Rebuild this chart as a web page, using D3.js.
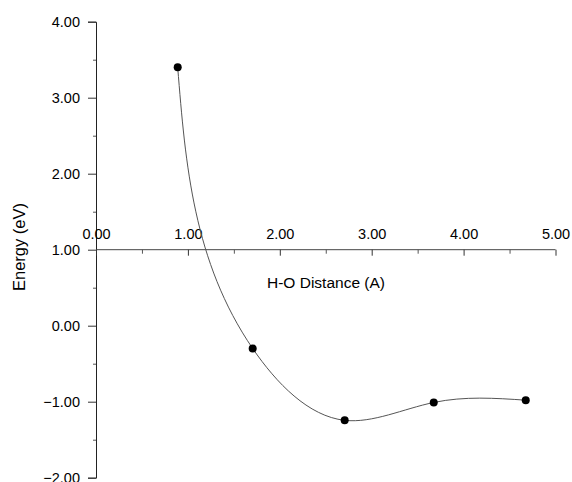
<!DOCTYPE html>
<html>
<head>
<meta charset="utf-8">
<script src="https://cdn.jsdelivr.net/npm/d3@7"></script>
<style>
  body { margin: 0; background: #fff; }
  text { font-family: Arial, "Liberation Sans", sans-serif; fill: #000; }
</style>
</head>
<body>
<svg width="572" height="482"></svg>
<script>
// H-O distance (A) and energy (eV)
const distance = [0.889, 1.705, 2.706, 3.675, 4.676];
const energy = [3.40, -0.30, -1.245, -1.01, -0.98];

const xTicks = [0, 1, 2, 3, 4, 5];
const xMinor = [0.5, 1.5, 2.5, 3.5, 4.5];
const yTicks = [-2, -1, 0, 1, 2, 3, 4];
const yMinor = [-1.5, -0.5, 0.5, 1.5, 2.5, 3.5];

let svg = d3.select("svg");

let x = d3.scaleLinear().domain([0, 5]).range([96, 555.5]);
let y = d3.scaleLinear().domain([-2, 4]).range([477.7, 21.7]);

// parametric natural spline, chord-length knots (like the plotting program's smoothing)
function chordSpline(context) {
  let pts;
  return {
    areaStart() {},
    areaEnd() {},
    lineStart() { pts = []; },
    point(px, py) { pts.push([+px, +py]); },
    lineEnd() {
      let n = pts.length - 1;
      if (n < 1) return;
      context.moveTo(pts[0][0], pts[0][1]);
      if (n === 1) { context.lineTo(pts[1][0], pts[1][1]); return; }
      let h = [];
      for (let i = 0; i < n; i++) {
        h.push(Math.hypot(pts[i + 1][0] - pts[i][0], pts[i + 1][1] - pts[i][1]) || 1e-6);
      }
      // solve for second derivatives of one coordinate
      function derivs(k) {
        let v = pts.map(p => p[k]);
        let a = [], b = [], c = [], r = [];
        for (let i = 1; i < n; i++) {
          a.push(h[i - 1]);
          b.push(2 * (h[i - 1] + h[i]));
          c.push(h[i]);
          r.push(6 * ((v[i + 1] - v[i]) / h[i] - (v[i] - v[i - 1]) / h[i - 1]));
        }
        let m = n - 1;
        for (let i = 1; i < m; i++) {
          let w = a[i] / b[i - 1];
          b[i] -= w * c[i - 1];
          r[i] -= w * r[i - 1];
        }
        let M = new Array(n + 1).fill(0);
        for (let i = m - 1; i >= 0; i--) {
          M[i + 1] = (r[i] - (i < m - 1 ? c[i] * M[i + 2] : 0)) / b[i];
        }
        let d = [];
        for (let i = 0; i < n; i++) {
          d.push((v[i + 1] - v[i]) / h[i] - h[i] * (2 * M[i] + M[i + 1]) / 6);
        }
        d.push((v[n] - v[n - 1]) / h[n - 1] + h[n - 1] * (M[n - 1] + 2 * M[n]) / 6);
        return d;
      }
      let dx = derivs(0), dy = derivs(1);
      for (let i = 0; i < n; i++) {
        let p0 = pts[i], p1 = pts[i + 1];
        context.bezierCurveTo(
          p0[0] + h[i] * dx[i] / 3, p0[1] + h[i] * dy[i] / 3,
          p1[0] - h[i] * dx[i + 1] / 3, p1[1] - h[i] * dy[i + 1] / 3,
          p1[0], p1[1]);
      }
    }
  };
}

// y axis (left, full height)
let yAxis = d3.axisLeft(y)
  .tickValues(yTicks)
  .tickSize(8)
  .tickPadding(8)
  .tickFormat(d3.format(".2f"));

let gy = svg.append("g")
  .attr("transform", `translate(${x(0)},0)`)
  .call(yAxis);
gy.select(".domain").attr("stroke", "#222");
gy.selectAll(".tick line").attr("stroke", "#333");
gy.selectAll(".tick text").style("font-size", "14.5px").attr("fill", "#000");

let gyMinor = svg.append("g")
  .attr("transform", `translate(${x(0)},0)`)
  .call(d3.axisLeft(y).tickValues(yMinor).tickSize(3).tickFormat(""));
gyMinor.select(".domain").remove();
gyMinor.selectAll(".tick line").attr("stroke", "#555");

// x axis crossing at energy = 1, labels above, ticks below
let xAxis = d3.axisBottom(x)
  .tickValues(xTicks)
  .tickSize(6)
  .tickFormat(d3.format(".2f"));

let gx = svg.append("g")
  .attr("transform", `translate(0,${y(1)})`)
  .call(xAxis);
gx.select(".domain").attr("stroke", "#444").attr("d", `M${x(0)},0H${x(5)}`);
gx.selectAll(".tick line").attr("stroke", "#333");
gx.selectAll(".tick text")
  .attr("y", -11)
  .attr("dy", 0)
  .style("font-size", "14.5px")
  .attr("fill", "#000");

let gxMinor = svg.append("g")
  .attr("transform", `translate(0,${y(1)})`)
  .call(d3.axisBottom(x).tickValues(xMinor).tickSize(4).tickFormat(""));
gxMinor.select(".domain").remove();
gxMinor.selectAll(".tick line").attr("stroke", "#555");

// axis titles
svg.append("text")
  .attr("x", 326)
  .attr("y", 288)
  .attr("text-anchor", "middle")
  .style("font-size", "15.5px")
  .text("H-O Distance (A)");

svg.append("text")
  .attr("transform", "translate(24.5,247) rotate(-90)")
  .attr("text-anchor", "middle")
  .style("font-size", "16.5px")
  .text("Energy (eV)");

// smooth curve through the points
let pts = distance.map((d, i) => [d, energy[i]]);

let line = d3.line()
  .x(d => x(d[0]))
  .y(d => y(d[1]))
  .curve(chordSpline);

svg.append("path")
  .datum(pts)
  .attr("fill", "none")
  .attr("stroke", "#555")
  .attr("stroke-width", 1)
  .attr("d", line);

svg.append("g")
  .selectAll("circle")
  .data(pts)
  .enter()
  .append("circle")
  .attr("cx", d => x(d[0]))
  .attr("cy", d => y(d[1]))
  .attr("r", 4)
  .attr("fill", "#000");
</script>
</body>
</html>
